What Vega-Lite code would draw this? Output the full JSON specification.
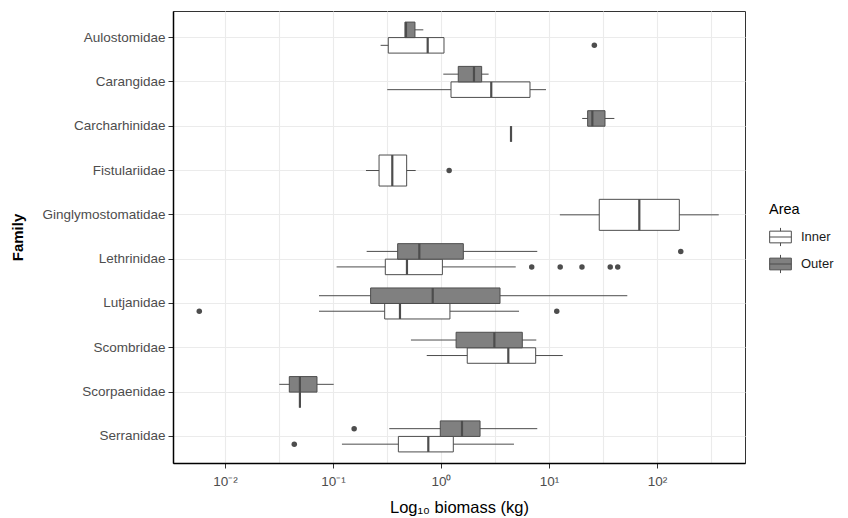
{
  "$schema": "https://vega.github.io/schema/vega-lite/v6.json",
  "width": 572,
  "height": 452,
  "autosize": {"type": "none"},
  "padding": {"left": 173, "top": 11, "right": 103, "bottom": 55},
  "background": "white",
  "config": {
    "font": "Liberation Sans",
    "view": {"stroke": "#333333", "strokeWidth": 1},
    "axis": {
      "gridColor": "#EBEBEB", "gridWidth": 1.1,
      "domainColor": "#000000", "domainWidth": 1.5,
      "tickColor": "#333333", "tickSize": 5, "tickWidth": 1,
      "labelColor": "#4D4D4D", "labelFont": "Liberation Sans",
      "titleFont": "Liberation Sans", "titleColor": "#000000"
    }
  },
  "data": {
    "values": [
      {"Family": "Aulostomidae", "Area": "Inner", "lower": 0.276, "q1": 0.325, "median": 0.753, "q3": 1.066, "upper": 1.066},
      {"Family": "Aulostomidae", "Area": "Inner", "outlier": 26.3},
      {"Family": "Aulostomidae", "Area": "Outer", "lower": 0.464, "q1": 0.464, "median": 0.474, "q3": 0.574, "upper": 0.686},
      {"Family": "Carangidae", "Area": "Inner", "lower": 0.318, "q1": 1.238, "median": 2.92, "q3": 6.67, "upper": 9.38},
      {"Family": "Carangidae", "Area": "Outer", "lower": 1.05, "q1": 1.445, "median": 2.02, "q3": 2.38, "upper": 2.76},
      {"Family": "Carcharhinidae", "Area": "Inner", "lower": 4.45, "q1": 4.45, "median": 4.45, "q3": 4.45, "upper": 4.45},
      {"Family": "Carcharhinidae", "Area": "Outer", "lower": 20.3, "q1": 22.8, "median": 25.2, "q3": 33.0, "upper": 40.3},
      {"Family": "Fistulariidae", "Area": "Inner", "lower": 0.202, "q1": 0.267, "median": 0.354, "q3": 0.481, "upper": 0.583},
      {"Family": "Fistulariidae", "Area": "Inner", "outlier": 1.19},
      {"Family": "Ginglymostomatidae", "Area": "Inner", "lower": 12.6, "q1": 29.2, "median": 68.6, "q3": 161, "upper": 373},
      {"Family": "Lethrinidae", "Area": "Inner", "lower": 0.108, "q1": 0.305, "median": 0.484, "q3": 1.03, "upper": 4.92},
      {"Family": "Lethrinidae", "Area": "Inner", "outlier": 6.92},
      {"Family": "Lethrinidae", "Area": "Inner", "outlier": 12.7},
      {"Family": "Lethrinidae", "Area": "Inner", "outlier": 20.2},
      {"Family": "Lethrinidae", "Area": "Inner", "outlier": 36.9},
      {"Family": "Lethrinidae", "Area": "Inner", "outlier": 43.3},
      {"Family": "Lethrinidae", "Area": "Outer", "lower": 0.205, "q1": 0.397, "median": 0.63, "q3": 1.61, "upper": 7.79},
      {"Family": "Lethrinidae", "Area": "Outer", "outlier": 166},
      {"Family": "Lutjanidae", "Area": "Inner", "lower": 0.0742, "q1": 0.301, "median": 0.417, "q3": 1.21, "upper": 5.28},
      {"Family": "Lutjanidae", "Area": "Inner", "outlier": 0.00578},
      {"Family": "Lutjanidae", "Area": "Inner", "outlier": 11.8},
      {"Family": "Lutjanidae", "Area": "Outer", "lower": 0.0742, "q1": 0.223, "median": 0.838, "q3": 3.52, "upper": 53.1},
      {"Family": "Scombridae", "Area": "Inner", "lower": 0.738, "q1": 1.75, "median": 4.2, "q3": 7.53, "upper": 13.4},
      {"Family": "Scombridae", "Area": "Outer", "lower": 0.527, "q1": 1.38, "median": 3.12, "q3": 5.66, "upper": 7.63},
      {"Family": "Scorpaenidae", "Area": "Inner", "lower": 0.0494, "q1": 0.0494, "median": 0.0494, "q3": 0.0494, "upper": 0.0494},
      {"Family": "Scorpaenidae", "Area": "Outer", "lower": 0.0318, "q1": 0.0394, "median": 0.0494, "q3": 0.0711, "upper": 0.1015},
      {"Family": "Serranidae", "Area": "Inner", "lower": 0.121, "q1": 0.403, "median": 0.763, "q3": 1.3, "upper": 4.74},
      {"Family": "Serranidae", "Area": "Inner", "outlier": 0.0438},
      {"Family": "Serranidae", "Area": "Outer", "lower": 0.332, "q1": 0.985, "median": 1.565, "q3": 2.3, "upper": 7.79},
      {"Family": "Serranidae", "Area": "Outer", "outlier": 0.157}
    ]
  },
  "transform": [
    {"joinaggregate": [{"op": "distinct", "field": "Area", "as": "nAreas"}], "groupby": ["Family"]}
  ],
  "encoding": {
    "y": {
      "field": "Family", "type": "nominal", "sort": "ascending",
      "scale": {"type": "band", "paddingInner": 0.3, "paddingOuter": 0.25},
      "axis": {
        "title": "Family", "bandPosition": 0.5, "grid": true,
        "labelFontSize": 13.5, "labelPadding": 3,
        "titleFontSize": 15, "titleFontWeight": "bold",
        "titleX": -156, "titleY": 226, "titleAngle": -90,
        "titleBaseline": "middle", "titleAlign": "center"
      }
    }
  },
  "layer": [
    {
      "transform": [{"filter": "datum.nAreas == 2"}],
      "encoding": {
        "yOffset": {"field": "Area", "type": "nominal", "scale": {"domain": ["Outer", "Inner"], "paddingInner": 0, "paddingOuter": 0}}
      },
      "layer": [
        {
          "transform": [{"filter": "isValid(datum.median)"}],
          "mark": {"type": "rule", "color": "#4D4D4D", "strokeWidth": 1},
          "encoding": {
            "x": {
              "field": "lower", "type": "quantitative", "title": "Log₁₀ biomass (kg)",
              "scale": {"type": "log", "domain": [0.0033, 653], "nice": false},
              "axis": {
                "values": [0.01, 0.0316228, 0.1, 0.316228, 1, 3.16228, 10, 31.6228, 100, 316.228],
                "labelExpr": "datum.value == 0.01 ? '10⁻²' : datum.value == 0.1 ? '10⁻¹' : datum.value == 1 ? '10⁰' : datum.value == 10 ? '10¹' : datum.value == 100 ? '10²' : ''",
                "tickOpacity": {"condition": {"test": "indexof([0.01, 0.1, 1, 10, 100], datum.value) < 0", "value": 0}, "value": 1},
                "grid": true, "labelFontSize": 13.5, "labelPadding": 6,
                "titleFontSize": 16.5, "titleFontWeight": "normal", "titleY": 49, "titleBaseline": "alphabetic"
              }
            },
            "x2": {"field": "upper"}
          }
        },
        {
          "transform": [{"filter": "isValid(datum.median)"}],
          "mark": {"type": "bar", "stroke": "#4D4D4D", "strokeWidth": 1},
          "encoding": {
            "x": {"field": "q1", "type": "quantitative", "title": "Log₁₀ biomass (kg)"},
            "x2": {"field": "q3"},
            "fill": {
              "field": "Area", "type": "nominal",
              "scale": {"domain": ["Inner", "Outer"], "range": ["#FFFFFF", "#808080"]},
              "legend": {
                "orient": "none", "legendX": 596, "legendY": 192, "padding": 0,
                "title": "Area", "titleFontSize": 14.5, "titleFontWeight": "normal", "titleColor": "#000000", "titlePadding": 8,
                "labelFontSize": 13, "labelColor": "#1A1A1A", "labelOffset": 9,
                "symbolType": "M-1,-0.54H1V0.54H-1Z M0,-0.54V-0.84 M0,0.54V0.84 M-1,0H1",
                "symbolSize": 470, "symbolStrokeColor": "#4D4D4D", "symbolStrokeWidth": 1,
                "rowPadding": 4
              }
            }
          }
        },
        {
          "transform": [{"filter": "isValid(datum.median)"}],
          "mark": {"type": "tick", "color": "#4D4D4D", "thickness": 2.2, "size": 15.5, "opacity": 1},
          "encoding": {
            "x": {"field": "median", "type": "quantitative", "title": "Log₁₀ biomass (kg)"}
          }
        },
        {
          "transform": [{"filter": "isValid(datum.outlier)"}],
          "mark": {"type": "circle", "color": "#4D4D4D", "opacity": 1, "size": 30},
          "encoding": {
            "x": {"field": "outlier", "type": "quantitative", "title": "Log₁₀ biomass (kg)"}
          }
        }
      ]
    },
    {
      "transform": [{"filter": "datum.nAreas == 1"}],
      "layer": [
        {
          "transform": [{"filter": "isValid(datum.median)"}],
          "mark": {"type": "rule", "color": "#4D4D4D", "strokeWidth": 1},
          "encoding": {
            "x": {"field": "lower", "type": "quantitative", "title": "Log₁₀ biomass (kg)"},
            "x2": {"field": "upper"}
          }
        },
        {
          "transform": [{"filter": "isValid(datum.median)"}],
          "mark": {"type": "bar", "stroke": "#4D4D4D", "strokeWidth": 1},
          "encoding": {
            "x": {"field": "q1", "type": "quantitative", "title": "Log₁₀ biomass (kg)"},
            "x2": {"field": "q3"},
            "fill": {"field": "Area", "type": "nominal"}
          }
        },
        {
          "transform": [{"filter": "isValid(datum.median)"}],
          "mark": {"type": "tick", "color": "#4D4D4D", "thickness": 2.2, "size": 31, "opacity": 1},
          "encoding": {
            "x": {"field": "median", "type": "quantitative", "title": "Log₁₀ biomass (kg)"}
          }
        },
        {
          "transform": [{"filter": "isValid(datum.outlier)"}],
          "mark": {"type": "circle", "color": "#4D4D4D", "opacity": 1, "size": 30},
          "encoding": {
            "x": {"field": "outlier", "type": "quantitative", "title": "Log₁₀ biomass (kg)"}
          }
        }
      ]
    }
  ]
}
